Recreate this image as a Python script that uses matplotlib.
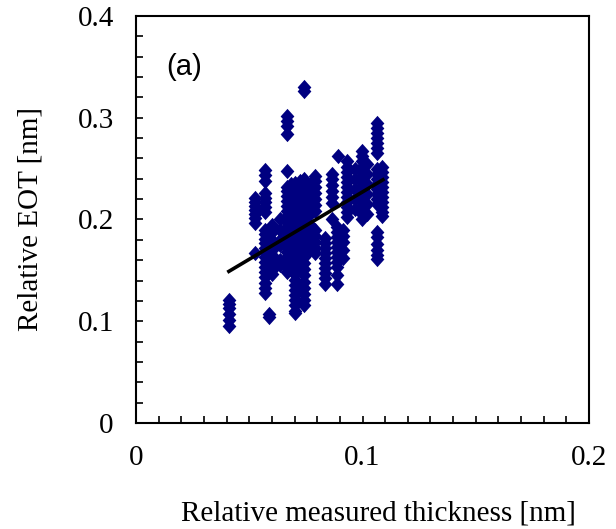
import matplotlib
matplotlib.use("Agg")
import matplotlib.pyplot as plt
import numpy as np

# ---- data ----
col_x = [0.041, 0.0525, 0.057, 0.0585, 0.060, 0.0635, 0.0665, 0.0685, 0.0702,
         0.0725, 0.0740, 0.077, 0.079, 0.0834, 0.0864, 0.0886, 0.0893, 0.0913,
         0.093, 0.0965, 0.0996, 0.102, 0.1063, 0.1085]
col_y = [
    [0.121, 0.117, 0.113, 0.107, 0.101, 0.095],
    [0.221, 0.217, 0.213, 0.209, 0.205, 0.201, 0.197, 0.167],
    [0.249, 0.244, 0.238, 0.226, 0.221, 0.217, 0.212, 0.207, 0.190, 0.186, 0.181,
     0.177, 0.172, 0.168, 0.163, 0.158, 0.153, 0.148, 0.143, 0.138, 0.133, 0.128],
    [0.107, 0.104],
    [0.195, 0.188, 0.180, 0.175, 0.170, 0.165, 0.158, 0.150, 0.146],
    [0.200, 0.190, 0.180, 0.175, 0.160, 0.155],
    [0.302, 0.297, 0.292, 0.284, 0.248, 0.232, 0.228, 0.223, 0.218, 0.213, 0.208,
     0.203, 0.198, 0.193, 0.188, 0.183, 0.178, 0.173, 0.168, 0.163, 0.158, 0.153, 0.148],
    [0.235, 0.228, 0.220, 0.212, 0.205, 0.198, 0.190, 0.180, 0.170, 0.160, 0.150],
    [0.236, 0.231, 0.226, 0.221, 0.216, 0.211, 0.206, 0.201, 0.196, 0.191, 0.186,
     0.181, 0.176, 0.171, 0.166, 0.161, 0.156, 0.151, 0.146, 0.141, 0.136, 0.131,
     0.126, 0.121, 0.116, 0.110, 0.108],
    [0.238, 0.230, 0.220, 0.210, 0.200, 0.190, 0.180, 0.170, 0.160, 0.150],
    [0.330, 0.326, 0.240, 0.235, 0.229, 0.223, 0.217, 0.211, 0.205, 0.199, 0.193,
     0.187, 0.181, 0.175, 0.169, 0.163, 0.157, 0.151, 0.145, 0.139, 0.133, 0.127,
     0.121, 0.116],
    [0.235, 0.225, 0.215, 0.205, 0.195, 0.185, 0.175, 0.170],
    [0.243, 0.238, 0.232, 0.226, 0.220, 0.214, 0.208, 0.190, 0.184, 0.178, 0.172, 0.167],
    [0.182, 0.177, 0.172, 0.167, 0.162, 0.157, 0.152, 0.147, 0.142, 0.137],
    [0.245, 0.240, 0.234, 0.228, 0.222, 0.216, 0.200],
    [0.193, 0.188, 0.183, 0.178, 0.173, 0.168, 0.163, 0.158, 0.153, 0.145, 0.137],
    [0.262],
    [0.190, 0.184, 0.178, 0.170, 0.162],
    [0.257, 0.252, 0.247, 0.242, 0.237, 0.232, 0.227, 0.222, 0.217, 0.212, 0.207, 0.202],
    [0.250, 0.240, 0.230, 0.220, 0.210],
    [0.267, 0.262, 0.257, 0.252, 0.247, 0.242, 0.237, 0.232, 0.227, 0.222, 0.217,
     0.212, 0.205, 0.200],
    [0.255, 0.245, 0.235, 0.225, 0.215, 0.205],
    [0.295, 0.290, 0.285, 0.280, 0.275, 0.270, 0.265, 0.250, 0.245, 0.240, 0.235,
     0.230, 0.225, 0.220, 0.215, 0.188, 0.183, 0.176, 0.170, 0.165, 0.161],
    [0.252, 0.247, 0.242, 0.237, 0.232, 0.227, 0.222, 0.217, 0.212, 0.207, 0.203],
]
fit_x = [0.041, 0.109]
fit_y = [0.149, 0.239]

xs = np.concatenate([[cx] * len(cy) for cx, cy in zip(col_x, col_y)])
ys = np.concatenate([np.asarray(cy) for cy in col_y])

# ---- figure ----
fig = plt.figure(figsize=(6.16, 5.29), dpi=100)
ax = fig.add_axes([0.2208, 0.2004, 0.7354, 0.7694])

diamond = [(0, 1), (0.9, 0), (0, -1), (-0.9, 0), (0, 1)]
ax.plot(xs, ys, linestyle="none", marker=diamond, markersize=11,
        color="#000080", markeredgewidth=0, zorder=2)
ax.plot(fit_x, fit_y, color="black", linewidth=2.6, zorder=3)

ax.set_xlim(0, 0.2)
ax.set_ylim(0, 0.4)
ax.set_xticks([0, 0.1, 0.2])
ax.set_xticklabels(["0", "0.1", "0.2"])
ax.set_yticks([0, 0.1, 0.2, 0.3, 0.4])
ax.set_yticklabels(["0", "0.1", "0.2", "0.3", "0.4"])
ax.set_xticks(np.arange(0, 0.2001, 0.01), minor=True)
ax.set_yticks(np.arange(0, 0.4001, 0.02), minor=True)

serif = "Liberation Serif"
ax.tick_params(which="both", direction="in", top=False, right=False,
               length=5, width=1.2)
ax.tick_params(axis="both", which="major", labelsize=21, pad=16)
for lab in ax.get_xticklabels() + ax.get_yticklabels():
    lab.set_family(serif)
for s in ax.spines.values():
    s.set_linewidth(1.5)

ax.set_xlabel("Relative measured thickness [nm]", family=serif, fontsize=21)
ax.set_ylabel("Relative EOT [nm]", family=serif, fontsize=21)
ax.xaxis.set_label_coords(0.535, -0.19)
ax.yaxis.set_label_coords(-0.205, 0.5)

ax.text(0.0135, 0.35, "(a)", family="Liberation Sans", fontsize=21,
        ha="left", va="center")

fig.savefig("out.png", dpi=100)
